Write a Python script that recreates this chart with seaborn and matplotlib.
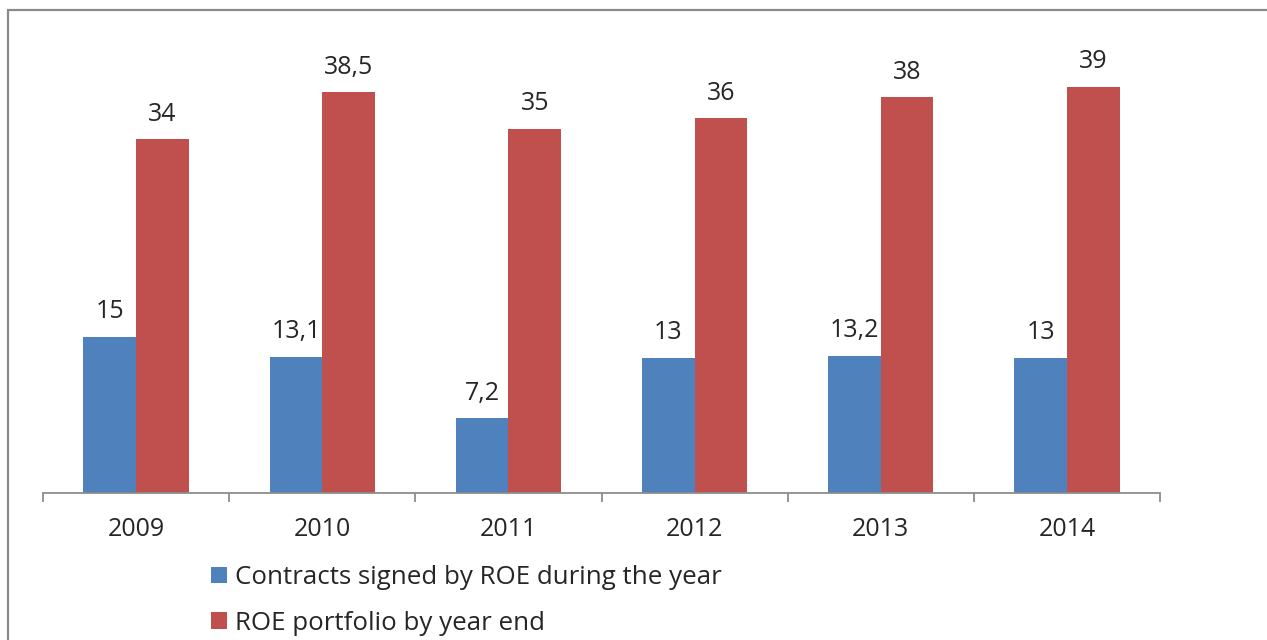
import matplotlib
matplotlib.use("Agg")
import matplotlib.pyplot as plt
import seaborn as sns
import pandas as pd
from matplotlib.patches import Rectangle, Patch

years = ["2009", "2010", "2011", "2012", "2013", "2014"]
series_names = ["Contracts signed by ROE during the year", "ROE portfolio by year end"]
contracts = [15, 13.1, 7.2, 13, 13.2, 13]
portfolio = [34, 38.5, 35, 36, 38, 39]
colors = ["#4F81BD", "#C0504D"]

df = pd.DataFrame({
    "year": years * 2,
    "series": [series_names[0]] * len(years) + [series_names[1]] * len(years),
    "value": contracts + portfolio,
})

sns.set_theme(style="white")
plt.rcParams["font.family"] = ["Open Sans", "DejaVu Sans"]

W, H = 1267, 640
fig = plt.figure(figsize=(W / 100, H / 100), dpi=100)
ax = fig.add_axes([43 / W, 1 - 493 / H, (1160 - 43) / W, (493 - 24.5) / H])

sns.barplot(data=df, x="year", y="value", hue="series", order=years,
            hue_order=series_names, palette=colors, width=0.565,
            saturation=1, ax=ax, legend=False, edgecolor="none")

ax.set_ylim(0, 45)
ax.set_xlim(-0.5, len(years) - 0.5)
ax.set_xlabel("")
ax.set_ylabel("")
ax.set_yticks([])
for s in ["left", "right", "top"]:
    ax.spines[s].set_visible(False)
ax.spines["bottom"].set_color("#8c8c8c")
ax.spines["bottom"].set_linewidth(1.3)

ax.tick_params(axis="x", which="major", bottom=False, length=0, pad=17.5,
               labelsize=18, labelcolor="#262626")
ax.set_xticks([i - 0.5 for i in range(len(years) + 1)], minor=True)
ax.tick_params(axis="x", which="minor", bottom=True, length=6.5, width=1.3,
               color="#8c8c8c", direction="out")

fmt = lambda v: (f"{v:g}").replace(".", ",")
for cont, vals in zip(ax.containers, [contracts, portfolio]):
    ax.bar_label(cont, labels=[fmt(v) for v in vals], padding=9,
                 fontsize=18, color="#262626")

handles = [Patch(facecolor=c, edgecolor="none") for c in colors]
fig.legend(handles, series_names, loc="upper left",
           bbox_to_anchor=(211 / W, 1 - 565 / H), frameon=False,
           fontsize=18.6, labelcolor="#262626", handlelength=0.62,
           handleheight=0.62, handletextpad=0.3, labelspacing=0.8,
           borderaxespad=0, borderpad=0)

fig.patches.append(Rectangle((7.5 / W, -0.1), 1.2, 1.1 - 9.5 / H,
                             transform=fig.transFigure, fill=False,
                             edgecolor="#8a8a8a", linewidth=1.6))

fig.savefig("out.png", dpi=100)
